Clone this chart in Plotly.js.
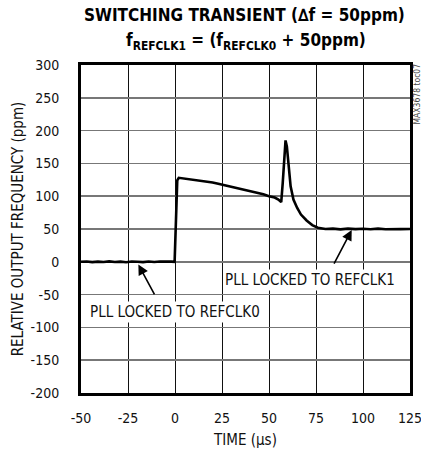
<!DOCTYPE html>
<html>
<head>
<meta charset="utf-8">
<script src="https://cdn.plot.ly/plotly-3.0.1.min.js"></script>
<style>html,body{margin:0;padding:0;background:#fff;}#chart{width:421px;height:456px;}</style>
</head>
<body>
<div id="chart"></div>
<script>
// Time (µs)
var timeUs = [-50,-47,-44,-41,-38,-35,-32,-29,-26,-23,-20,-17,-14,-11,-8,-5,-2,-0.2,0.4,1.2,2,5,8,11,14,17,20,23,26,29,32,35,38,41,44,47,50,53,55,56.5,57.3,58.2,58.8,59.5,60.5,61.5,63,65,67,70,73,76,80,84,88,92,96,100,104,108,112,116,120,125];
// Relative output frequency (ppm)
var freqPpm = [0,0.5,-0.5,0.3,-0.4,0.6,-0.3,0.2,-0.6,0.4,0,-0.5,0.5,-0.3,0.4,-0.2,0.3,0,60,124,128,127,126,125,124,122,121,119,117,115,113,112,110,107,105,103,100,98,95,91,120,172,185,176,140,115,95,82,72,63,56,52,50,50.5,49.5,50.5,49.8,50.4,49.6,50.5,49.7,50.3,49.8,50];

var xTicks = [-50,-25,0,25,50,75,100,125];
var yTicks = [-200,-150,-100,-50,0,50,100,150,200,250,300];

var titleLine1 = '<b>SWITCHING TRANSIENT (∆f = 50ppm)</b>';
var titleLine2 = '<b>f<sub>REFCLK1</sub> = (f<sub>REFCLK0</sub> + 50ppm)</b>';
var labelRefclk0 = "PLL LOCKED TO REFCLK0";
var labelRefclk1 = "PLL LOCKED TO REFCLK1";
var arrow0 = {head: [-19.5, -4], tail: [-10.5, -52], text: [0.2, -76]};
var arrow1 = {head: [94, 48.5], tail: [84.2, -5], text: [71.7, -27]};

var fontFam = '"DejaVu Sans Condensed", "Liberation Sans Narrow", "Liberation Sans", Arial, sans-serif';

var trace = {
  x: timeUs, y: freqPpm, type: 'scatter', mode: 'lines',
  line: {color: '#000', width: 2.6, shape: 'linear'},
  hoverinfo: 'skip'
};

var layout = {
  width: 421, height: 456,
  margin: {l: 80.7, r: 11.3, t: 64.7, b: 62.7},
  paper_bgcolor: '#fff', plot_bgcolor: '#fff',
  showlegend: false,
  font: {family: fontFam, size: 15, color: '#111'},
  xaxis: {
    range: [-50, 125], tickvals: xTicks, ticktext: xTicks.map(String),
    showgrid: true, gridcolor: '#111', gridwidth: 1,
    zeroline: false, showline: true, linecolor: '#000', linewidth: 3, mirror: true,
    ticks: '', ticklen: 0, fixedrange: true, ticklabelstandoff: 10, ticklabeloverflow: 'allow',
    tickfont: {family: fontFam, size: 14, color: '#111'},
    title: {text: 'TIME (µs)', font: {family: fontFam, size: 15, color: '#111'}, standoff: 10}
  },
  yaxis: {
    range: [-200, 300], tickvals: yTicks, ticktext: yTicks.map(String),
    showgrid: true, gridcolor: '#777', gridwidth: 1.5,
    zeroline: false, showline: true, linecolor: '#000', linewidth: 3, mirror: true,
    ticks: '', ticklen: 0, fixedrange: true, ticklabelstandoff: 16,
    tickfont: {family: fontFam, size: 14, color: '#111'},
    title: {text: 'RELATIVE OUTPUT FREQUENCY (ppm)', font: {family: fontFam, size: 15, color: '#111'}, standoff: 4}
  },
  annotations: [
    {x: 0.497, y: 15, xref: 'paper', yref: 'paper', yanchor: 'middle', text: titleLine1, showarrow: false,
     font: {family: fontFam, size: 17, color: '#000'}},
    {x: 0.5, y: 41, xref: 'paper', yref: 'paper', yanchor: 'middle', text: titleLine2, showarrow: false,
     font: {family: fontFam, size: 17, color: '#000'}},
    {x: arrow0.text[0], y: arrow0.text[1], xref: 'x', yref: 'y', text: labelRefclk0, showarrow: false,
     font: {family: fontFam, size: 15, color: '#111'}, bgcolor: '#fff', borderpad: 1},
    {x: arrow0.head[0], y: arrow0.head[1], ax: arrow0.tail[0], ay: arrow0.tail[1], axref: 'x', ayref: 'y',
     xref: 'x', yref: 'y', text: '', showarrow: true, arrowhead: 2, arrowsize: 1.3, arrowwidth: 1.6, arrowcolor: '#000'},
    {x: arrow1.text[0], y: arrow1.text[1], xref: 'x', yref: 'y', text: labelRefclk1, showarrow: false,
     font: {family: fontFam, size: 15, color: '#111'}, bgcolor: '#fff', borderpad: 1},
    {x: arrow1.head[0], y: arrow1.head[1], ax: arrow1.tail[0], ay: arrow1.tail[1], axref: 'x', ayref: 'y',
     xref: 'x', yref: 'y', text: '', showarrow: true, arrowhead: 2, arrowsize: 1.3, arrowwidth: 1.6, arrowcolor: '#000'},
    {x: 1, y: 1, xref: 'paper', yref: 'paper', xanchor: 'left', yanchor: 'top', xshift: 0, yshift: 2,
     text: 'MAX3678 toc07', textangle: -90, showarrow: false, borderpad: 0,
     font: {family: fontFam, size: 8.5, color: '#444'}}
  ]
};
// convert title pixel centres (from top) to paper coords
layout.annotations[0].y = (456 - 62.7 - layout.annotations[0].y) / (456 - 62.7 - 64.7);
layout.annotations[1].y = (456 - 62.7 - layout.annotations[1].y) / (456 - 62.7 - 64.7);

Plotly.newPlot('chart', [trace], layout, {displayModeBar: false, staticPlot: true});
</script>
</body>
</html>
